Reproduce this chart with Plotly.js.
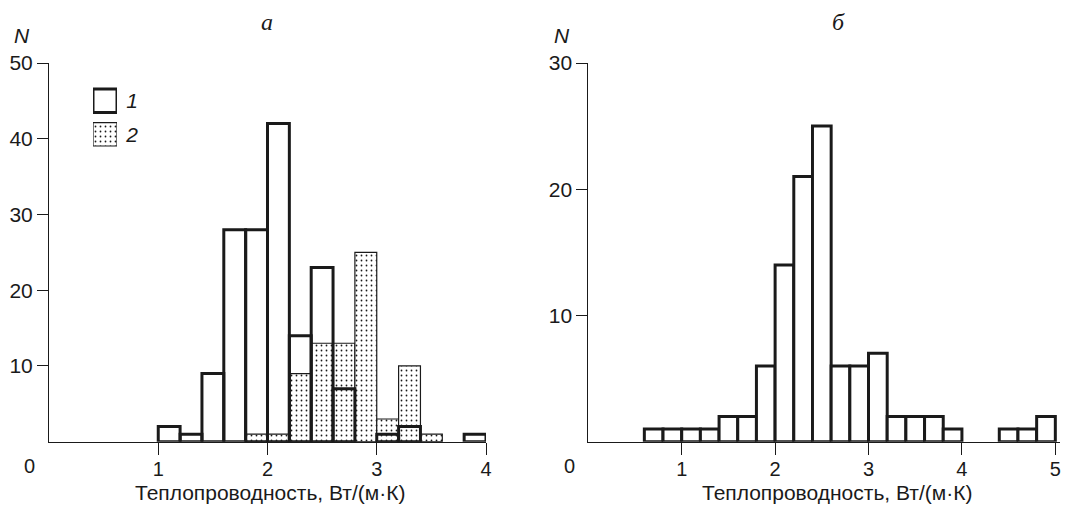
<!DOCTYPE html>
<html>
<head>
<meta charset="utf-8">
<script src="https://cdn.plot.ly/plotly-3.0.1.min.js"></script>
<style>html,body{margin:0;padding:0;background:#fff;}#chart{width:1066px;height:505px;}</style>
</head>
<body>
<div id="chart"></div>
<script>
// ---- data ----
const binWidth = 0.2;
const binsA = [1.0, 1.2, 1.4, 1.6, 1.8, 2.0, 2.2, 2.4, 2.6, 2.8, 3.0, 3.2, 3.4, 3.6, 3.8];
const countsA1 = [2, 1, 9, 28, 28, 42, 14, 23, 7, 0, 1, 2, 0, 0, 1];
const countsA2 = [0, 0, 0, 0, 1, 1, 9, 13, 13, 25, 3, 10, 1, 0, 0];
const binsB = [0.6, 0.8, 1.0, 1.2, 1.4, 1.6, 1.8, 2.0, 2.2, 2.4, 2.6, 2.8, 3.0, 3.2, 3.4, 3.6, 3.8, 4.0, 4.2, 4.4, 4.6, 4.8];
const countsB = [1, 1, 1, 1, 2, 2, 6, 14, 21, 25, 6, 6, 7, 2, 2, 2, 1, 0, 0, 1, 1, 2];
const xTicksA = [1, 2, 3, 4];
const yTicksA = [10, 20, 30, 40, 50];
const xTicksB = [1, 2, 3, 4, 5];
const yTicksB = [10, 20, 30];
const legendLabels = ['1', '2'];
const xTitle = 'Теплопроводность, Вт/(м·К)';
const panelTitles = ['a', 'б'];

// ---- helpers ----
function nz(bins, counts) {
  const x = [], y = [];
  bins.forEach((b, i) => { if (counts[i] > 0) { x.push(b); y.push(counts[i]); } });
  return {x, y};
}
const W = 1066, H = 505;
const px = v => v / W;
const py = v => 1 - v / H;
const sans = 'Liberation Sans, Arial, Helvetica, sans-serif';
const serif = 'Liberation Serif, Times New Roman, serif';
const ink = '#1a1a1a';

const a2 = nz(binsA, countsA2), a1 = nz(binsA, countsA1), b = nz(binsB, countsB);
const dots = {shape: '.', fgcolor: ink, bgcolor: 'white', size: 5, solidity: 0.1};

const traces = [
  {type: 'bar', x: a2.x, y: a2.y, width: binWidth, offset: 0, xaxis: 'x', yaxis: 'y',
   marker: {color: 'white', pattern: dots, line: {color: ink, width: 1.2}}, name: legendLabels[1]},
  {type: 'bar', x: a1.x, y: a1.y, width: binWidth, offset: 0, xaxis: 'x', yaxis: 'y',
   marker: {color: 'rgba(0,0,0,0)', line: {color: ink, width: 3}}, name: legendLabels[0]},
  {type: 'bar', x: b.x, y: b.y, width: binWidth, offset: 0, xaxis: 'x2', yaxis: 'y2',
   marker: {color: 'white', line: {color: ink, width: 3}}},
  // legend swatches
  {type: 'bar', orientation: 'h', y: [legendLabels[0]], x: [1], width: 0.7, xaxis: 'x3', yaxis: 'y3',
   marker: {color: 'white', line: {color: ink, width: 3}}},
  {type: 'bar', orientation: 'h', y: [legendLabels[1]], x: [1], width: 0.7, xaxis: 'x3', yaxis: 'y3',
   marker: {color: 'white', pattern: dots, line: {color: ink, width: 1.2}}}
];

const tickFont = {family: sans, size: 20, color: ink};
const xBase = {ticks: 'outside', ticklen: 12, tickwidth: 1, tickcolor: ink, showline: true, linecolor: ink,
  linewidth: 1, showgrid: false, zeroline: false, tickfont: tickFont, ticklabelstandoff: -3, fixedrange: true};
const yBase = {ticks: 'outside', ticklen: 11, tickwidth: 1, tickcolor: ink, showline: true, linecolor: ink,
  linewidth: 1, showgrid: false, zeroline: false, tickfont: {family: sans, size: 21, color: ink}, fixedrange: true};
const yDom = [py(441.7), py(63)];

const layout = {
  width: W, height: H, margin: {l: 0, r: 0, t: 0, b: 0},
  paper_bgcolor: 'white', plot_bgcolor: 'rgba(0,0,0,0)',
  barmode: 'overlay', showlegend: false,
  xaxis: Object.assign({}, xBase, {domain: [px(49), px(486)], range: [0, 4], tickvals: xTicksA, anchor: 'y'}),
  yaxis: Object.assign({}, yBase, {domain: yDom, range: [0, 50], tickvals: yTicksA, anchor: 'x'}),
  xaxis2: Object.assign({}, xBase, {domain: [px(588.3), px(1060)], range: [0, 5.05], tickvals: xTicksB, anchor: 'y2'}),
  yaxis2: Object.assign({}, yBase, {domain: yDom, range: [0, 30], tickvals: yTicksB, anchor: 'x2'}),
  xaxis3: {domain: [px(93), px(117)], range: [0, 1], visible: false, anchor: 'y3', fixedrange: true},
  yaxis3: {domain: [py(151), py(84)], type: 'category', autorange: 'reversed', side: 'right', anchor: 'x3',
    showline: false, showgrid: false, zeroline: false, ticks: 'outside', ticklen: 4, tickcolor: 'rgba(0,0,0,0)',
    tickfont: {family: sans, size: 21, color: ink, style: 'italic'}, fixedrange: true},
  annotations: [
    {text: panelTitles[0], x: px(267), y: py(22)},
    {text: panelTitles[1], x: px(838), y: py(22)}
  ].map(a => Object.assign(a, {xref: 'paper', yref: 'paper', showarrow: false, xanchor: 'center', yanchor: 'middle',
    font: {family: serif, size: 24, color: ink, style: 'italic'}}))
  .concat([
    {text: 'N', x: px(22), y: py(35)},
    {text: 'N', x: px(562), y: py(35)}
  ].map(a => Object.assign(a, {xref: 'paper', yref: 'paper', showarrow: false, xanchor: 'center', yanchor: 'middle',
    font: {family: sans, size: 21, color: ink, style: 'italic'}})))
  .concat([
    {text: '0', x: px(29), y: py(466)},
    {text: '0', x: px(569), y: py(466)}
  ].map(a => Object.assign(a, {xref: 'paper', yref: 'paper', showarrow: false, xanchor: 'center', yanchor: 'middle',
    font: {family: sans, size: 20, color: ink}})))
  .concat([
    {text: xTitle, x: px(269.5), y: py(492)},
    {text: xTitle, x: px(837), y: py(492)}
  ].map(a => Object.assign(a, {xref: 'paper', yref: 'paper', showarrow: false, xanchor: 'center', yanchor: 'middle',
    font: {family: sans, size: 21, color: ink}})))
};

Plotly.newPlot('chart', traces, layout, {staticPlot: true, displayModeBar: false});
</script>
</body>
</html>
